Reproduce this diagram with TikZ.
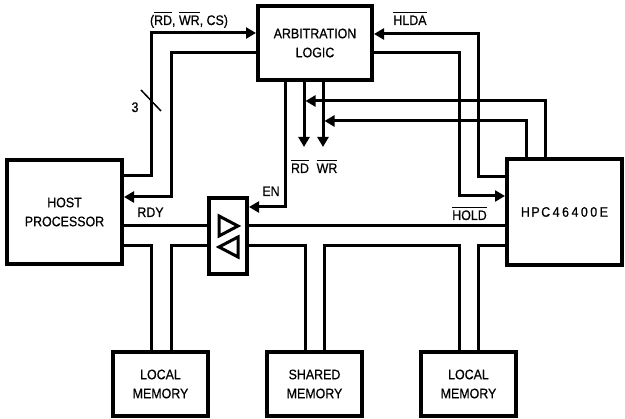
\documentclass[tikz,border=0pt]{standalone}
\usepackage{fontspec}
\setmainfont{Liberation Sans}[FakeStretch=0.9,FakeBold=0.6]
\usetikzlibrary{arrows.meta}
\newcommand\ovl[1]{\leavevmode\setbox0\hbox{#1}\rlap{\rule[\dimexpr\ht0+2.5pt\relax]{\wd0}{1.1pt}}\box0}
\begin{document}
\begin{tikzpicture}[x=1pt,y=-1pt,
  every node/.style={font=\fontsize{13.8}{19}\selectfont},
  blk/.style={draw,line width=4pt,inner sep=0pt,align=center},
  sig/.style={line width=3pt},
  arr/.style={sig,-{Triangle[length=10pt,width=11pt]}},
  tri/.style={line width=3pt,line join=miter},
  lbl/.style={inner sep=0pt,anchor=base}]
\useasboundingbox[fill=white] (0,0) rectangle (625,419);
% blocks
\node[blk,minimum width=115pt,minimum height=104pt] (host) at (64.5,212) {HOST\\PROCESSOR};
\node[blk,minimum width=114pt,minimum height=74pt] (arb) at (315,43) {ARBITRATION\\LOGIC};
\node[blk,minimum width=115pt,minimum height=106pt] (hpc) at (564.5,212) {H\kern1.5pt P\kern1.5pt C\kern2.5pt 4\kern2.5pt 6\kern2.5pt 4\kern2.5pt 0\kern2.5pt 0\kern2.5pt E};
\node[blk,minimum width=38pt,minimum height=76pt] (trans) at (228,236) {};
\node[blk,minimum width=95pt,minimum height=64pt] (lm1) at (160.5,384) {LOCAL\\MEMORY};
\node[blk,minimum width=95pt,minimum height=64pt] (sm) at (314.5,384) {SHARED\\MEMORY};
\node[blk,minimum width=95pt,minimum height=64pt] (lm2) at (468.5,384) {LOCAL\\MEMORY};
% transceiver symbols
\draw[tri] (219,216) -- (238,226) -- (219,236) -- cycle;
\draw[tri] (238,237) -- (219,247) -- (238,257) -- cycle;
% control signals
\draw[arr] (host.east |- 0,176) -- (151,176) -- (151,33) -- (arb.west |- 0,33);
\draw[arr] (arb.west |- 0,53) -- (171,53) -- (171,197) -- (host.east |- 0,197);
\draw[arr] (hpc.west |- 0,177) -- (478,177) -- (478,34) -- (arb.east |- 0,34);
\draw[arr] (arb.east |- 0,53) -- (459,53) -- (459,196) -- (hpc.west |- 0,196);
\draw[arr] (arb.south -| 285,0) -- (285,207) -- (trans.east |- 0,207);
\coordinate (rdend) at (304,147);
\coordinate (wrend) at (323,147);
\draw[arr] (arb.south -| rdend) -- (rdend);
\draw[arr] (arb.south -| wrend) -- (wrend);
\coordinate (rdin) at (305.5,101);
\coordinate (wrin) at (324.5,121);
\draw[arr] (hpc.north -| 545,0) -- (545,101) -- (rdin);
\draw[arr] (hpc.north -| 526,0) -- (526,121) -- (wrin);
% buses
\draw[sig] (host.east |- 0,226) -- (trans.west |- 0,226);
\draw[sig] (trans.east |- 0,226) -- (hpc.west |- 0,226);
\draw[sig] (host.east |- 0,246) -- (151,246) -- (lm1.north -| 151,0);
\draw[sig] (lm1.north -| 171,0) -- (171,246) -- (trans.west |- 0,246);
\draw[sig] (trans.east |- 0,246) -- (305,246) -- (sm.north -| 305,0);
\draw[sig] (sm.north -| 324,0) -- (324,246) -- (459,246) -- (lm2.north -| 459,0);
\draw[sig] (lm2.north -| 478,0) -- (478,246) -- (hpc.west |- 0,246);
% bus width slash
\draw[line width=1.5pt] (141,90) -- (161,111);
% labels
\node[lbl] (l3) at (135,112) {3};
\node[lbl] (lrwc) at (189,25) {(\ovl{RD}, \ovl{WR}, CS)};
\node[lbl] (lrdy) at (150.5,217) {RDY};
\node[lbl] (len) at (271,196) {EN};
\node[lbl] (lrd) at (300,173) {\ovl{RD}};
\node[lbl] (lwr) at (327,173) {\ovl{WR}};
\node[lbl] (lhlda) at (410,25) {\ovl{HLDA}};
\node[lbl] (lhold) at (469.5,220) {\ovl{HOLD}};
\end{tikzpicture}
\end{document}
